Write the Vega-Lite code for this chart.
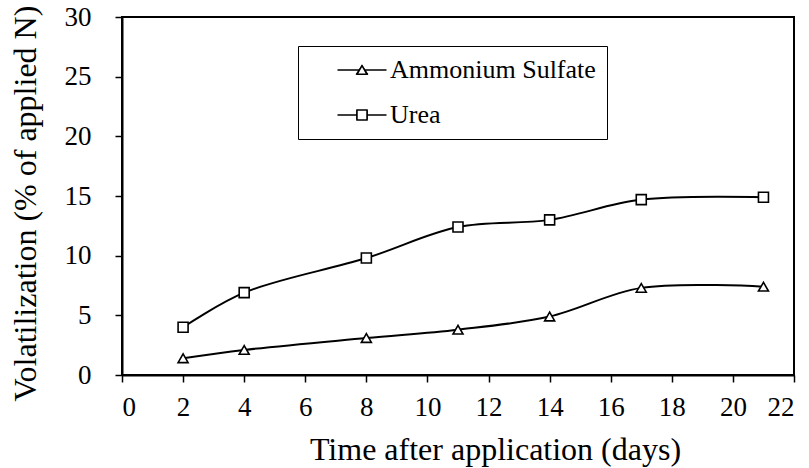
{
  "$schema": "https://vega.github.io/schema/vega-lite/v6.json",
  "width": 672,
  "height": 358,
  "autosize": {"type": "none"},
  "padding": {"left": 122, "top": 17, "right": 15, "bottom": 93},
  "background": "white",
  "config": {
    "view": {"stroke": "black", "strokeWidth": 2},
    "font": "Liberation Serif",
    "axis": {
      "grid": false,
      "domainColor": "black",
      "domainWidth": 2,
      "tickColor": "black",
      "tickWidth": 1.5,
      "tickSize": 7,
      "labelFont": "Liberation Serif",
      "labelFontSize": 27,
      "labelColor": "black",
      "titleFont": "Liberation Serif",
      "titleFontSize": 32,
      "titleFontWeight": "normal",
      "titleColor": "black"
    }
  },
  "data": {
    "values": [
      {"day": 2, "vol": 1.4, "fert": "Ammonium Sulfate"},
      {"day": 4, "vol": 2.1, "fert": "Ammonium Sulfate"},
      {"day": 8, "vol": 3.1, "fert": "Ammonium Sulfate"},
      {"day": 11, "vol": 3.8, "fert": "Ammonium Sulfate"},
      {"day": 14, "vol": 4.9, "fert": "Ammonium Sulfate"},
      {"day": 17, "vol": 7.3, "fert": "Ammonium Sulfate"},
      {"day": 21, "vol": 7.4, "fert": "Ammonium Sulfate"},
      {"day": 2, "vol": 4.0, "fert": "Urea"},
      {"day": 4, "vol": 6.9, "fert": "Urea"},
      {"day": 8, "vol": 9.8, "fert": "Urea"},
      {"day": 11, "vol": 12.4, "fert": "Urea"},
      {"day": 14, "vol": 13.0, "fert": "Urea"},
      {"day": 17, "vol": 14.7, "fert": "Urea"},
      {"day": 21, "vol": 14.9, "fert": "Urea"}
    ]
  },
  "encoding": {
    "x": {
      "field": "day",
      "type": "quantitative",
      "scale": {"domain": [0, 22], "nice": false},
      "axis": {"values": [0, 2, 4, 6, 8, 10, 12, 14, 16, 18, 20, 22], "title": "Time after application (days)", "labelPadding": 12, "titlePadding": 14, "titleX": 373}
    },
    "y": {
      "field": "vol",
      "type": "quantitative",
      "scale": {"domain": [0, 30], "nice": false},
      "axis": {"values": [0, 5, 10, 15, 20, 25, 30], "title": "Volatilization (% of applied N)", "labelPadding": 24, "titlePadding": 22, "titleY": 186}
    }
  },
  "layer": [
    {
      "mark": {"type": "line", "interpolate": "catmull-rom", "color": "black", "strokeWidth": 2},
      "encoding": {"detail": {"field": "fert"}}
    },
    {
      "transform": [{"filter": "false"}],
      "mark": {"type": "point", "filled": true, "fill": "white", "stroke": "black", "strokeWidth": 1.6, "size": 100, "opacity": 1},
      "encoding": {
        "shape": {
          "field": "fert",
          "type": "nominal",
          "scale": {
            "domain": ["Ammonium Sulfate", "Urea"],
            "range": [
              "M-4.9,0L-0.55,0M0.55,0L4.9,0M0,-0.8L1,0.7L-1,0.7Z",
              "M-4.9,0L-1,0M1,0L4.9,0M-1,-0.8L1,-0.8L1,0.8L-1,0.8Z"
            ]
          },
          "legend": {
            "title": null,
            "orient": "none",
            "legendX": 176,
            "legendY": 29,
            "direction": "vertical",
            "strokeColor": "black",
            "fillColor": "white",
            "padding": 11,
            "symbolOffset": 40,
            "rowPadding": 19,
            "symbolSize": 100,
            "labelFont": "Liberation Serif",
            "labelFontSize": 26,
            "labelColor": "black",
            "labelOffset": 15,
            "labelLimit": 500
          }
        }
      }
    },
    {
      "mark": {"type": "point", "filled": true, "fill": "white", "stroke": "black", "strokeWidth": 1.6, "size": 100, "opacity": 1},
      "encoding": {
        "shape": {
          "field": "fert",
          "type": "nominal",
          "scale": {"domain": ["Ammonium Sulfate", "Urea"], "range": ["triangle-up", "square"]},
          "legend": {
            "title": null,
            "orient": "none",
            "legendX": 176,
            "legendY": 29,
            "direction": "vertical",
            "padding": 11,
            "symbolOffset": 40,
            "rowPadding": 19,
            "symbolSize": 100,
            "labelFont": "Liberation Serif",
            "labelFontSize": 26,
            "labelColor": "transparent",
            "labelOffset": 15,
            "labelLimit": 500
          }
        }
      }
    }
  ],
  "resolve": {"scale": {"shape": "independent"}, "legend": {"shape": "independent"}}
}
